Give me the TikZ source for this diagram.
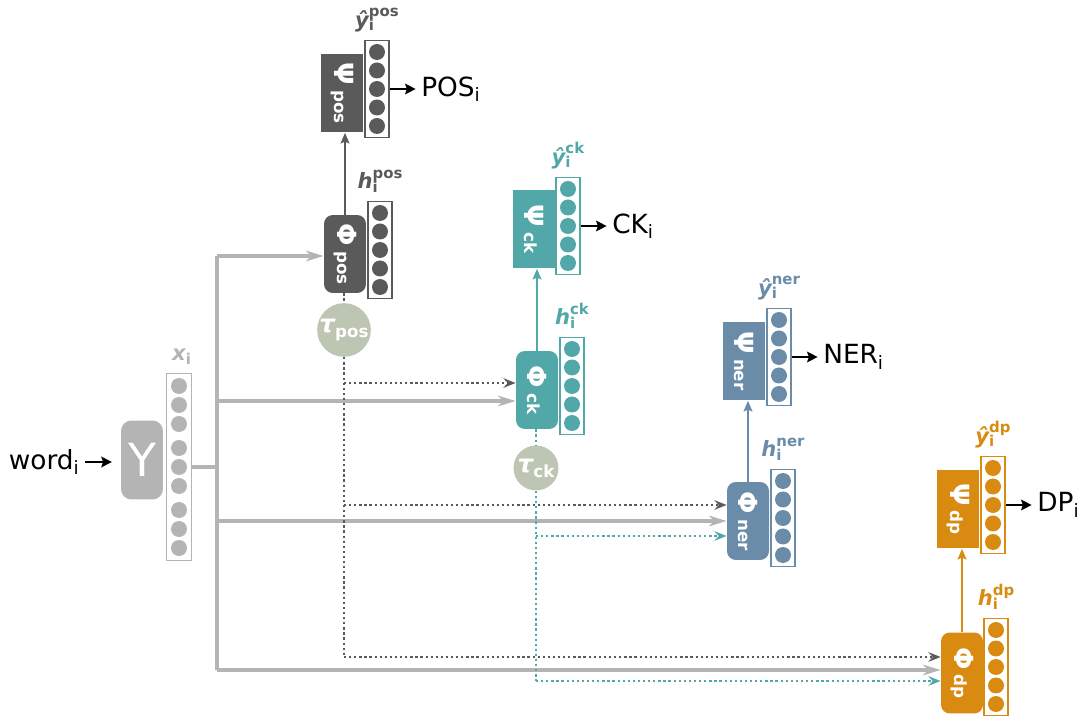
\documentclass[tikz,border=0pt]{standalone}
\usepackage{fontspec}
\setmainfont{DejaVu Sans}
\usetikzlibrary{arrows.meta, positioning, calc}
\definecolor{PosGray}{HTML}{5A5A5A}
\definecolor{CkTeal}{HTML}{52A8A8}
\definecolor{NerBlue}{HTML}{6B8CA8}
\definecolor{DpOrange}{HTML}{D88B10}
\definecolor{TauSage}{HTML}{BDC6B2}
\definecolor{InGray}{HTML}{B4B4B4}
% label over a layer vector: symbol, sub i, task superscript
\newcommand{\vlab}[2]{{\fontsize{12}{13}\selectfont\bfseries\itshape #1}\rlap{\raisebox{-0.4ex}{\fontsize{8.5}{9}\selectfont\bfseries i}}\raisebox{1.1ex}{\fontsize{8.5}{9}\selectfont\bfseries #2}}
% rotated text inside a task box
\newcommand{\boxlab}[2]{\rotatebox{-90}{{\fontsize{15}{15}\selectfont #1}\kern3pt{\fontsize{9.5}{10}\selectfont #2}}}
\newcommand{\taulab}[1]{{\fontsize{14}{14}\selectfont\bfseries\itshape τ}\raisebox{-0.5ex}{\fontsize{9.5}{10}\selectfont\bfseries #1}}

\begin{document}
\begin{tikzpicture}[x=0.02cm, y=-0.02cm,
    phibox/.style={fill=#1, rounded corners=5pt, minimum width=0.84cm, minimum height=1.56cm, inner sep=0pt, text=white, font=\bfseries},
    psibox/.style={fill=#1, minimum width=0.84cm, minimum height=1.58cm, inner sep=0pt, text=white, font=\bfseries},
    vecbox/.style={draw=#1, fill=white, line width=1.1pt, minimum width=0.48cm, minimum height=1.94cm, inner sep=0pt},
    taunode/.style={circle, fill=TauSage, minimum size=0.96cm, inner sep=0pt, text=white},
    outtext/.style={inner sep=0pt, font=\fontsize{15}{18}\selectfont},
    outarrow/.style={line width=1.7pt, -{Stealth[length=6pt, width=6pt, inset=1pt]}, shorten >=3pt},
    feed/.style={InGray, line width=1.9pt},
    feedarrow/.style={feed, -{Stealth[length=10pt, width=6pt, inset=3pt]}},
    uparrow/.style={#1, line width=1.6pt, -{Stealth[length=6pt, width=5pt, inset=1pt]}},
    dotline/.style={#1, line width=1.5pt, dash pattern=on 1.3pt off 1.6pt},
    dotarrow/.style={dotline=#1, -{Stealth[length=7pt, width=5.5pt, inset=2.5pt]}}
  ]
  \useasboundingbox (0,0) rectangle (1083,719);

  % Input: word embedding
  \node[fill=InGray, rounded corners=6pt, minimum width=0.84cm, minimum height=1.58cm, inner sep=0pt, text=white, font=\fontsize{26}{26}\selectfont] (ups) at (142,460) {Υ};
  \node[outtext, anchor=east] (word) at (80,462) {word\textsubscript{i}};
  \draw[outarrow, black, shorten <=3pt, shorten >=5pt] (word.east) -- (word.east -| ups.west);
  \node[draw=InGray, fill=white, line width=1.1pt, minimum width=0.5cm, minimum height=3.74cm, inner sep=0pt] (xi) at (179,467) {};
  \foreach \k in {-81,-62,-43,-19,0,19,43,62,81}
    \fill[InGray] ($(xi)+(0,\k)$) circle (0.16cm);
  \node[text=InGray, above=1pt of xi] (xilab) {\vlab{x}{}};

  % POS level
  \node[psibox=PosGray] (psipos) at (342,93) {\boxlab{Ψ}{pos}};
  \node[vecbox=PosGray] (ypos) at (377,89) {};
  \foreach \k in {-2,...,2} \fill[PosGray] ($(ypos)+(0,\k*18.5)$) circle (0.16cm);
  \node[text=PosGray, above=1pt of ypos] (yposlab) {\vlab{ŷ}{pos}};
  \node[outtext, right=0.62cm of ypos] (pos) {POS\textsubscript{i}};
  \draw[outarrow] (ypos.east) -- (ypos.east -| pos.west);
  \node[phibox=PosGray] (phipos) at (345,254) {\boxlab{Φ}{pos}};
  \node[vecbox=PosGray] (hpos) at (380,250) {};
  \foreach \k in {-2,...,2} \fill[PosGray] ($(hpos)+(0,\k*18.5)$) circle (0.16cm);
  \node[text=PosGray, above=1pt of hpos] (hposlab) {\vlab{h}{pos}};
  \draw[uparrow=PosGray] (phipos.north) -- (phipos.north |- psipos.south);

  % CK level
  \node[psibox=CkTeal] (psick) at (534,229) {\boxlab{Ψ}{ck}};
  \node[vecbox=CkTeal] (yck) at (568,226) {};
  \foreach \k in {-2,...,2} \fill[CkTeal] ($(yck)+(0,\k*18.5)$) circle (0.16cm);
  \node[text=CkTeal, above=1pt of yck] (ycklab) {\vlab{ŷ}{ck}};
  \node[outtext, right=0.62cm of yck] (ck) {CK\textsubscript{i}};
  \draw[outarrow] (yck.east) -- (yck.east -| ck.west);
  \node[phibox=CkTeal] (phick) at (537,390) {\boxlab{Φ}{ck}};
  \node[vecbox=CkTeal] (hck) at (572,386) {};
  \foreach \k in {-2,...,2} \fill[CkTeal] ($(hck)+(0,\k*18.5)$) circle (0.16cm);
  \node[text=CkTeal, above=1pt of hck] (hcklab) {\vlab{h}{ck}};
  \draw[uparrow=CkTeal] (phick.north) -- (phick.north |- psick.south);

  % NER level
  \node[psibox=NerBlue] (psiner) at (744,361) {\boxlab{Ψ}{ner}};
  \node[vecbox=NerBlue] (yner) at (779,357) {};
  \foreach \k in {-2,...,2} \fill[NerBlue] ($(yner)+(0,\k*18.5)$) circle (0.16cm);
  \node[text=NerBlue, above=1pt of yner] (ynerlab) {\vlab{ŷ}{ner}};
  \node[outtext, right=0.62cm of yner] (ner) {NER\textsubscript{i}};
  \draw[outarrow] (yner.east) -- (yner.east -| ner.west);
  \node[phibox=NerBlue] (phiner) at (748,521) {\boxlab{Φ}{ner}};
  \node[vecbox=NerBlue] (hner) at (783,518) {};
  \foreach \k in {-2,...,2} \fill[NerBlue] ($(hner)+(0,\k*18.5)$) circle (0.16cm);
  \node[text=NerBlue, above=1pt of hner] (hnerlab) {\vlab{h}{ner}};
  \draw[uparrow=NerBlue] (phiner.north) -- (phiner.north |- psiner.south);

  % DP level
  \node[psibox=DpOrange] (psidp) at (958,509) {\boxlab{Ψ}{dp}};
  \node[vecbox=DpOrange] (ydp) at (993,505) {};
  \foreach \k in {-2,...,2} \fill[DpOrange] ($(ydp)+(0,\k*18.5)$) circle (0.16cm);
  \node[text=DpOrange, above=1pt of ydp] (ydplab) {\vlab{ŷ}{dp}};
  \node[outtext, right=0.62cm of ydp] (dp) {DP\textsubscript{i}};
  \draw[outarrow] (ydp.east) -- (ydp.east -| dp.west);
  \node[phibox=DpOrange, minimum height=1.62cm] (phidp) at (962,673) {\boxlab{Φ}{dp}};
  \node[vecbox=DpOrange] (hdp) at (996,667) {};
  \foreach \k in {-2,...,2} \fill[DpOrange] ($(hdp)+(0,\k*18.5)$) circle (0.16cm);
  \node[text=DpOrange, above=1pt of hdp] (hdplab) {\vlab{h}{dp}};
  \draw[uparrow=DpOrange] (phidp.north) -- (phidp.north |- psidp.south);

  % Shared input to every encoder
  \coordinate (gpos) at (217,256);
  \coordinate (gck) at (217,401);
  \coordinate (gner) at (217,521);
  \coordinate (gdp) at (217,670);
  \draw[feed] (xi.east) -- (xi.east -| gpos);
  \draw[feed] (gpos) -- (gdp);
  \draw[feedarrow] (gpos) -- (gpos -| phipos.west);
  \draw[feedarrow] (gck) -- (gck -| phick.west);
  \draw[feedarrow] (gner) -- (gner -| phiner.west);
  \draw[feedarrow] (gdp) -- (gdp -| phidp.west);

  % Shortcuts from the POS encoder
  \coordinate (dck) at (344,383);
  \coordinate (dner) at (344,505);
  \coordinate (ddp) at (344,657);
  \node[taunode] (taupos) at (344,330) {\taulab{pos}};
  \draw[dotline=PosGray] (phipos.south -| taupos) -- (taupos);
  \draw[dotline=PosGray] (taupos) -- (ddp);
  \draw[dotarrow=PosGray] (dck) -- (dck -| phick.west);
  \draw[dotarrow=PosGray] (dner) -- (dner -| phiner.west);
  \draw[dotarrow=PosGray] (ddp) -- (ddp -| phidp.west);

  % Shortcuts from the CK encoder
  \coordinate (tner) at (536,536);
  \coordinate (tdp) at (536,681);
  \node[taunode, minimum size=0.9cm] (tauck) at (536,468) {\taulab{ck}};
  \draw[dotline=CkTeal] (phick.south -| tauck) -- (tauck);
  \draw[dotline=CkTeal] (tauck) -- (tdp);
  \draw[dotarrow=CkTeal] (tner) -- (tner -| phiner.west);
  \draw[dotarrow=CkTeal] (tdp) -- (tdp -| phidp.west);
\end{tikzpicture}
\end{document}
